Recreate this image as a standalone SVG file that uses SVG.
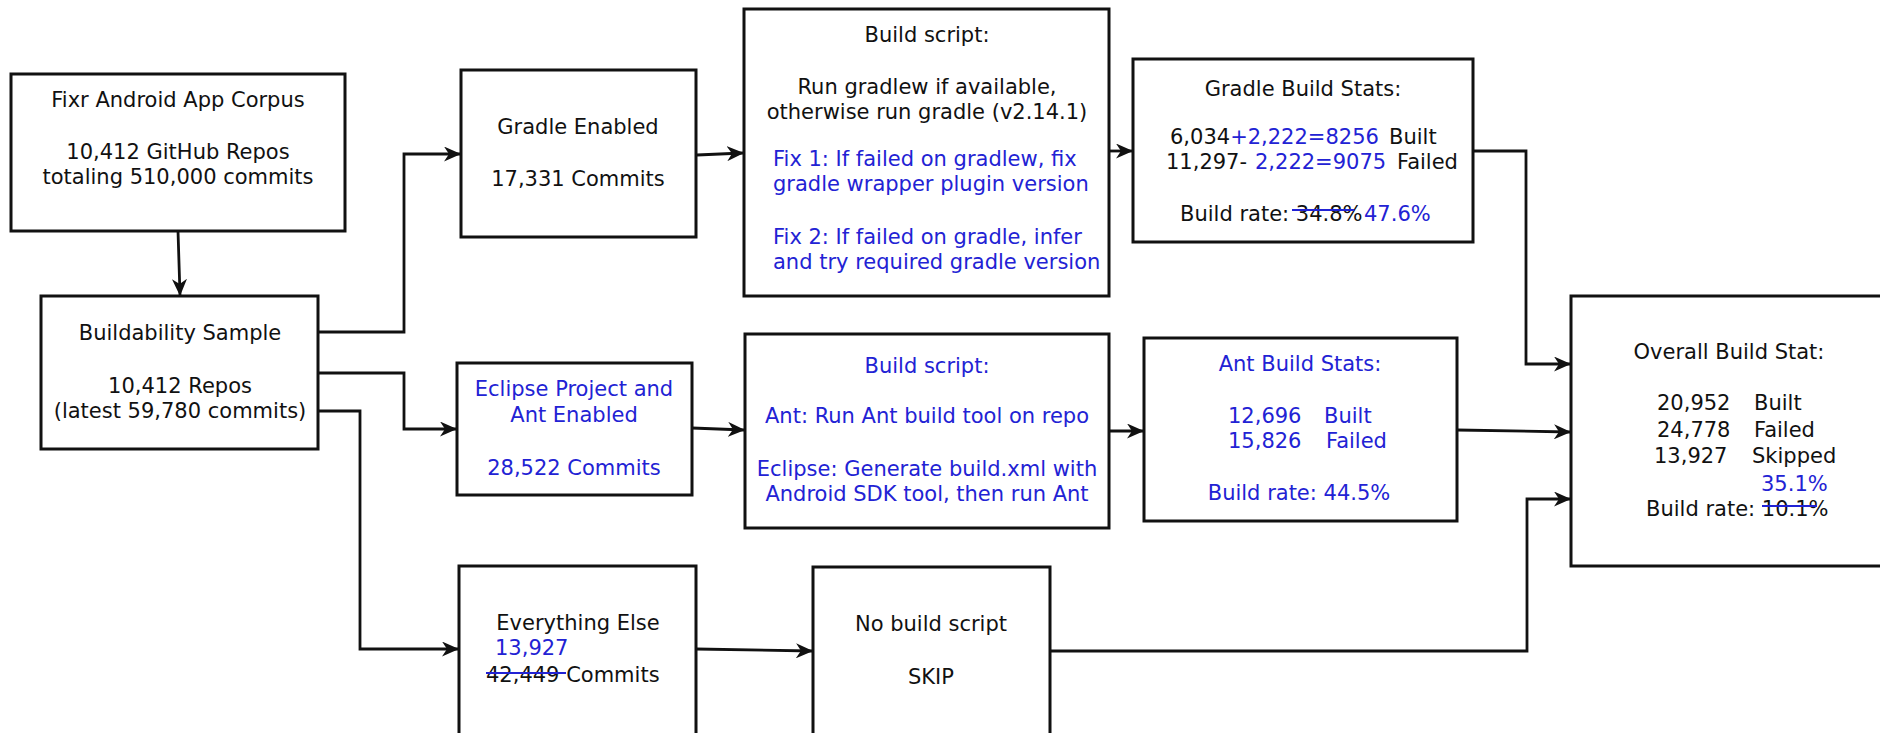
<svg xmlns="http://www.w3.org/2000/svg" width="1880" height="733" viewBox="0 0 1880 733">
<style>
.box{fill:#fff;stroke:#111;stroke-width:3}
.t{font-family:"DejaVu Sans","Liberation Sans",sans-serif;font-size:21px;fill:#111}
.c{text-anchor:middle}
.b{fill:#2222d4}
.ln{fill:none;stroke:#111;stroke-width:2.8}
.strike{stroke:#2222d4;stroke-width:2.2}
</style>
<defs>
<marker id="ah" viewBox="0 0 17 15" refX="16" refY="7.5" markerWidth="17" markerHeight="15" markerUnits="userSpaceOnUse" orient="auto">
<path d="M0,0 L17,7.5 L0,15 L5,7.5 z" fill="#111"/>
</marker>
</defs>
<rect width="1880" height="733" fill="#fff"/>

<g id="connectors">
<line class="ln" x1="178" y1="231" x2="180" y2="295" marker-end="url(#ah)"/>
<polyline class="ln" points="318,332 404,332 404,154 460,154" marker-end="url(#ah)"/>
<polyline class="ln" points="318,373 404,373 404,429 456,429" marker-end="url(#ah)"/>
<polyline class="ln" points="318,411 360,411 360,649 458,649" marker-end="url(#ah)"/>
<line class="ln" x1="697" y1="155" x2="743" y2="153" marker-end="url(#ah)"/>
<line class="ln" x1="1109" y1="151" x2="1132" y2="151" marker-end="url(#ah)"/>
<line class="ln" x1="692" y1="428" x2="744" y2="430" marker-end="url(#ah)"/>
<line class="ln" x1="1109" y1="431" x2="1143" y2="431" marker-end="url(#ah)"/>
<line class="ln" x1="696" y1="649" x2="812" y2="651" marker-end="url(#ah)"/>
<polyline class="ln" points="1473,151 1526,151 1526,364 1570,364" marker-end="url(#ah)"/>
<line class="ln" x1="1457" y1="430" x2="1570" y2="432" marker-end="url(#ah)"/>
<polyline class="ln" points="1050,651 1527,651 1527,499 1570,499" marker-end="url(#ah)"/>
</g>

<g id="corpus">
<rect class="box" x="11" y="74" width="334" height="157"/>
<text class="t c" x="178" y="107">Fixr Android App Corpus</text>
<text class="t c" x="178" y="159">10,412 GitHub Repos</text>
<text class="t c" x="178" y="184">totaling 510,000 commits</text>
</g>

<g id="sample">
<rect class="box" x="41" y="296" width="277" height="153"/>
<text class="t c" x="180" y="340">Buildability Sample</text>
<text class="t c" x="180" y="393">10,412 Repos</text>
<text class="t c" x="180" y="418">(latest 59,780 commits)</text>
</g>

<g id="gradle-enabled">
<rect class="box" x="461" y="70" width="235" height="167"/>
<text class="t c" x="578" y="134">Gradle Enabled</text>
<text class="t c" x="578" y="186">17,331 Commits</text>
</g>

<g id="gradle-script">
<rect class="box" x="744" y="9" width="365" height="287"/>
<text class="t c" x="927" y="42">Build script:</text>
<text class="t c" x="927" y="94">Run gradlew if available,</text>
<text class="t c" x="927" y="119">otherwise run gradle (v2.14.1)</text>
<text class="t b" x="773" y="166">Fix 1: If failed on gradlew, fix</text>
<text class="t b" x="773" y="191">gradle wrapper plugin version</text>
<text class="t b" x="773" y="244">Fix 2: If failed on gradle, infer</text>
<text class="t b" x="773" y="269">and try required gradle version</text>
</g>

<g id="gradle-stats">
<rect class="box" x="1133" y="59" width="340" height="183"/>
<text class="t c" x="1303" y="96">Gradle Build Stats:</text>
<text class="t" x="1170" y="144">6,034<tspan class="b">+2,222=8256</tspan><tspan x="1389">Built</tspan></text>
<text class="t" x="1166" y="169">11,297- <tspan class="b" x="1255">2,222=9075</tspan><tspan x="1397">Failed</tspan></text>
<text class="t" x="1180" y="221">Build rate: 34.8%<tspan class="b" x="1364">47.6%</tspan></text>
<line class="strike" x1="1292" y1="210" x2="1354" y2="210"/>
</g>

<g id="eclipse-enabled">
<rect class="box" x="457" y="363" width="235" height="132"/>
<text class="t c b" x="574" y="396">Eclipse Project and</text>
<text class="t c b" x="574" y="422">Ant Enabled</text>
<text class="t c b" x="574" y="475">28,522 Commits</text>
</g>

<g id="ant-script">
<rect class="box" x="745" y="334" width="364" height="194"/>
<text class="t c b" x="927" y="373">Build script:</text>
<text class="t c b" x="927" y="423">Ant: Run Ant build tool on repo</text>
<text class="t c b" x="927" y="476">Eclipse: Generate build.xml with</text>
<text class="t c b" x="927" y="501">Android SDK tool, then run Ant</text>
</g>

<g id="ant-stats">
<rect class="box" x="1144" y="338" width="313" height="183"/>
<text class="t c b" x="1300" y="371">Ant Build Stats:</text>
<text class="t b" x="1228" y="423">12,696<tspan x="1324">Built</tspan></text>
<text class="t b" x="1228" y="448">15,826<tspan x="1326">Failed</tspan></text>
<text class="t c b" x="1299" y="500">Build rate: 44.5%</text>
</g>

<g id="everything-else">
<rect class="box" x="459" y="566" width="237" height="180"/>
<text class="t c" x="578" y="630">Everything Else</text>
<text class="t b" x="495" y="655">13,927</text>
<text class="t" x="486" y="682">42,449 Commits</text>
<line class="strike" x1="486" y1="673" x2="566" y2="673"/>
</g>

<g id="no-build">
<rect class="box" x="813" y="567" width="237" height="180"/>
<text class="t c" x="931" y="631">No build script</text>
<text class="t c" x="931" y="684">SKIP</text>
</g>

<g id="overall">
<rect class="box" x="1571" y="296" width="330" height="270"/>
<text class="t c" x="1729" y="359">Overall Build Stat:</text>
<text class="t" x="1657" y="410">20,952<tspan x="1754">Built</tspan></text>
<text class="t" x="1657" y="437">24,778<tspan x="1754">Failed</tspan></text>
<text class="t" x="1654" y="463">13,927<tspan x="1752">Skipped</tspan></text>
<text class="t b" x="1761" y="491">35.1%</text>
<text class="t" x="1646" y="516">Build rate: 10.1%</text>
<line class="strike" x1="1762" y1="506" x2="1817" y2="506"/>
</g>
</svg>
